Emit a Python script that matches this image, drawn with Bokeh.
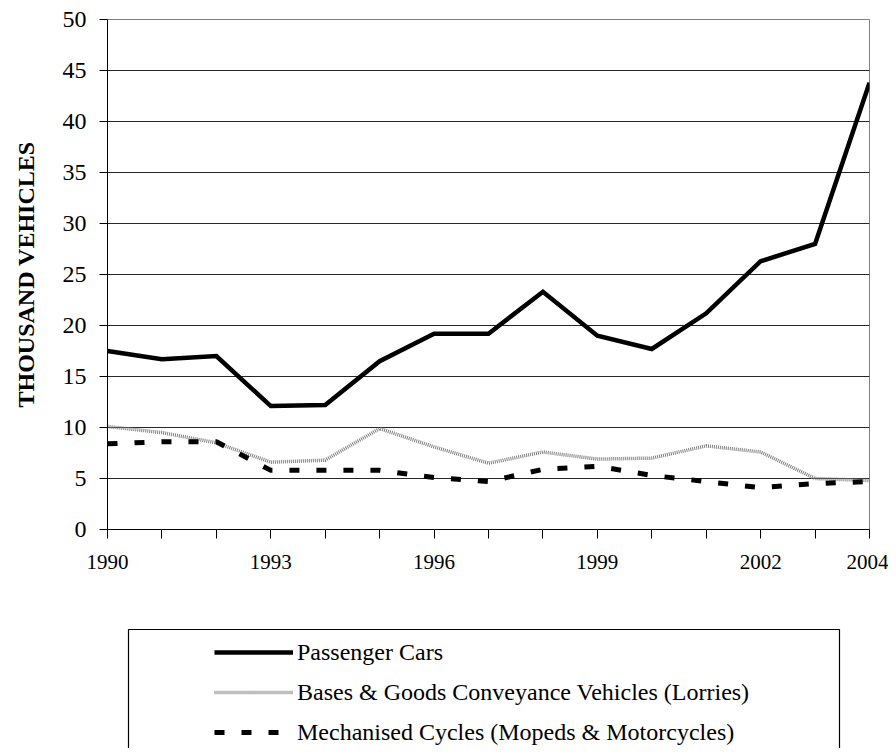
import json
from bokeh.plotting import figure
from bokeh.layouts import column
from bokeh.models import (FixedTicker, CustomJSTickFormatter, Legend, LegendItem, Range1d,
                          BoxAnnotation)
from bokeh.embed import file_html
from bokeh.resources import INLINE

# ---- data (thousand vehicles) ----
years = [1990, 1991, 1992, 1993, 1994, 1995, 1996, 1997, 1998, 1999, 2000, 2001, 2002, 2003, 2004]
cars = [17.5, 16.7, 17.0, 12.1, 12.2, 16.5, 19.2, 19.2, 23.3, 19.0, 17.7, 21.2, 26.3, 28.0, 43.8]
lorries = [10.1, 9.5, 8.5, 6.6, 6.8, 9.9, 8.1, 6.5, 7.6, 6.9, 7.0, 8.2, 7.6, 5.0, 4.8]
mopeds = [8.4, 8.6, 8.6, 5.8, 5.8, 5.8, 5.1, 4.7, 5.9, 6.2, 5.3, 4.7, 4.1, 4.5, 4.7]
labelled_years = [1990, 1993, 1996, 1999, 2002, 2004]
y_ticks = [0, 5, 10, 15, 20, 25, 30, 35, 40, 45, 50]
names = ["Passenger Cars",
         "Bases & Goods Conveyance Vehicles (Lorries)",
         "Mechanised Cycles (Mopeds & Motorcycles)"]

SERIF = "Liberation Serif"
CARS_STYLE = dict(line_color="black", line_width=4.5)
LOR_STYLE = dict(line_color="#7f7f7f", line_width=3.5, line_dash="1 1")
MOP_STYLE = dict(line_color="black", line_width=5, line_dash="10 17")

# ---------------- main chart ----------------
p = figure(width=888, height=600, output_backend="svg", toolbar_location=None,
           x_range=Range1d(1990, 2004), y_range=Range1d(0, 50),
           min_border_left=107, min_border_right=19, min_border_top=19, min_border_bottom=71)
p.background_fill_color = "white"
p.border_fill_color = "white"
p.outline_line_color = "#808080"
p.outline_line_width = 1

p.line(years, cars, line_join="miter", **CARS_STYLE)
p.line(years, lorries, **LOR_STYLE)
p.line(years, mopeds, **MOP_STYLE)

xa = p.xaxis[0]
xa.ticker = FixedTicker(ticks=years, minor_ticks=[])
xa.formatter = CustomJSTickFormatter(
    code="const show = %s; const t = Math.round(tick); return show.includes(t) ? String(t) : '';"
    % json.dumps(labelled_years))
xa.major_tick_out = 9
xa.major_tick_in = 0
xa.minor_tick_out = 0
xa.axis_line_color = "black"
xa.major_tick_line_color = "black"
xa.major_label_text_font = SERIF
xa.major_label_text_font_size = "21px"
xa.major_label_text_color = "black"
xa.major_label_standoff = 16

ya = p.yaxis[0]
ya.ticker = FixedTicker(ticks=y_ticks, minor_ticks=[])
ya.major_tick_out = 8
ya.major_tick_in = 0
ya.minor_tick_out = 0
ya.axis_line_color = "black"
ya.major_tick_line_color = "black"
ya.major_label_text_font = SERIF
ya.major_label_text_font_size = "24px"
ya.major_label_text_color = "black"
ya.major_label_standoff = 13
ya.axis_label = "THOUSAND VEHICLES"
ya.axis_label_text_font = SERIF
ya.axis_label_text_font_style = "bold"
ya.axis_label_text_font_size = "24px"
ya.axis_label_text_color = "black"
ya.axis_label_standoff = 21

p.xgrid.visible = False
p.ygrid.ticker = FixedTicker(ticks=y_ticks)
p.ygrid.grid_line_color = "black"
p.ygrid.grid_line_alpha = 0.85
p.ygrid.grid_line_width = 1

# ---------------- legend area ----------------
q = figure(width=888, height=148, output_backend="svg", toolbar_location=None,
           x_axis_type=None, y_axis_type=None,
           x_range=Range1d(0, 1), y_range=Range1d(0, 1),
           min_border_left=107, min_border_right=19, min_border_top=0, min_border_bottom=0)
q.xgrid.visible = False
q.ygrid.visible = False
q.outline_line_alpha = 0
q.background_fill_color = "white"
q.border_fill_color = "white"

# same series, out of this panel's visible range: only their legend swatches show
l1 = q.line(years, cars, **CARS_STYLE)
l2 = q.line(years, lorries, **LOR_STYLE)
l3 = q.line(years, mopeds, **MOP_STYLE)

box = BoxAnnotation(left=128, right=839, top=29, bottom=175,
                    left_units="canvas", right_units="canvas",
                    top_units="canvas", bottom_units="canvas",
                    fill_alpha=0, line_color="black", line_alpha=1, line_width=1.2)
q.add_layout(box)

legend = Legend(items=[LegendItem(label=names[0], renderers=[l1]),
                       LegendItem(label=names[1], renderers=[l2]),
                       LegendItem(label=names[2], renderers=[l3])],
                location=(107, 2), orientation="vertical",
                padding=0, margin=0, spacing=12,
                glyph_width=79, glyph_height=28, label_height=28,
                label_standoff=4,
                label_text_font=SERIF, label_text_font_size="24px",
                label_text_color="black",
                border_line_alpha=0, background_fill_alpha=0)
q.add_layout(legend, "center")

layout = column(p, q, spacing=0)
open("out.html", "w").write(file_html(layout, INLINE))
